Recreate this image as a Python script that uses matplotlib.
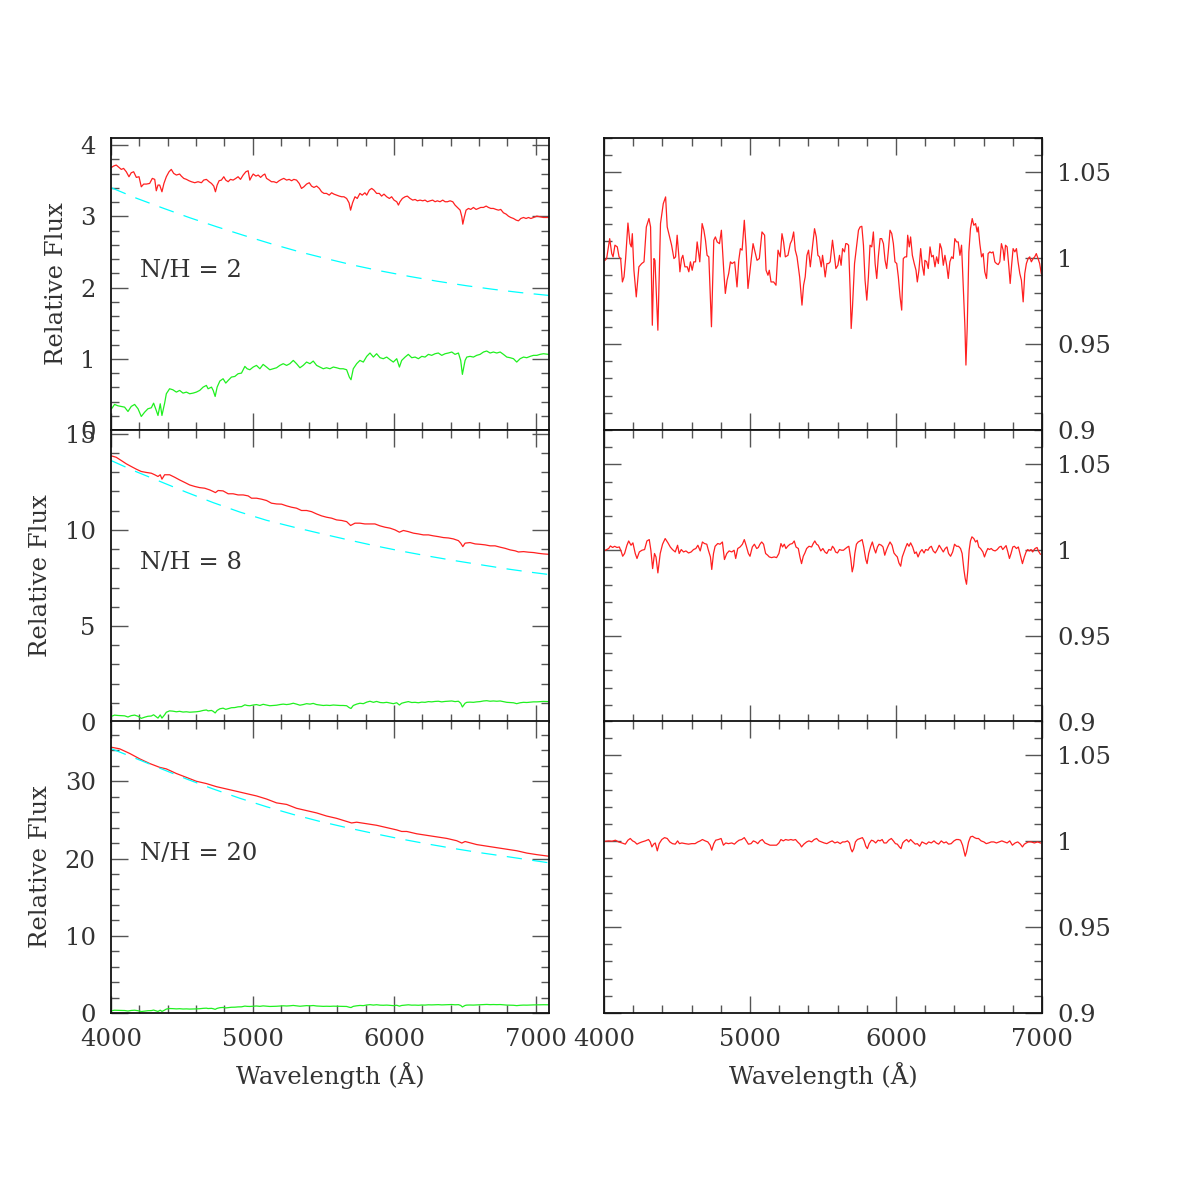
import matplotlib
matplotlib.use("Agg")
import matplotlib.pyplot as plt
from matplotlib.ticker import MultipleLocator, FuncFormatter

plt.rcParams.update({
    "font.family": "DejaVu Serif", "font.size": 17.5,
    "text.color": "#333333", "axes.labelcolor": "#333333",
    "xtick.labelcolor": "#333333", "ytick.labelcolor": "#333333",
    "lines.scale_dashes": False,
})

# galaxy spectrum (green, same in all three left panels)
GREEN_WAVE = [4004, 4025, 4049, 4073, 4096, 4120, 4143, 4167, 4191, 4214,
              4238, 4261, 4285, 4301, 4320, 4332, 4348, 4360, 4379, 4391,
              4414, 4437, 4462, 4485, 4509, 4533, 4556, 4580, 4603, 4627,
              4651, 4674, 4686, 4710, 4722, 4736, 4750, 4769, 4792, 4811,
              4828, 4851, 4875, 4898, 4922, 4946, 4962, 4981, 5005, 5028,
              5052, 5075, 5099, 5122, 5146, 5170, 5193, 5217, 5241, 5264,
              5288, 5311, 5335, 5358, 5382, 5406, 5429, 5453, 5476, 5500,
              5523, 5547, 5571, 5594, 5618, 5641, 5665, 5684, 5696, 5712,
              5736, 5759, 5783, 5807, 5830, 5854, 5877, 5901, 5924, 5948,
              5972, 5995, 6019, 6038, 6054, 6078, 6101, 6125, 6149, 6172,
              6196, 6219, 6243, 6266, 6290, 6313, 6337, 6361, 6384, 6408,
              6431, 6455, 6471, 6483, 6502, 6514, 6537, 6561, 6584, 6608,
              6632, 6655, 6679, 6702, 6726, 6750, 6773, 6797, 6820, 6844,
              6867, 6891, 6915, 6938, 6962, 6985, 7009, 7032, 7056, 7092]
GREEN_FLUX = [0.298, 0.359, 0.340, 0.331, 0.321, 0.260, 0.331, 0.359, 0.298, 0.190,
              0.251, 0.298, 0.312, 0.377, 0.274, 0.204, 0.368, 0.204, 0.377, 0.509,
              0.579, 0.565, 0.532, 0.556, 0.518, 0.532, 0.509, 0.518, 0.532, 0.556,
              0.602, 0.626, 0.579, 0.602, 0.556, 0.471, 0.602, 0.687, 0.720, 0.659,
              0.696, 0.743, 0.752, 0.790, 0.799, 0.893, 0.860, 0.846, 0.884, 0.907,
              0.860, 0.921, 0.884, 0.846, 0.860, 0.874, 0.907, 0.931, 0.907, 0.931,
              0.977, 0.931, 0.874, 0.907, 0.954, 0.931, 0.968, 0.907, 0.884, 0.860,
              0.874, 0.860, 0.884, 0.874, 0.860, 0.860, 0.846, 0.743, 0.706, 0.860,
              0.931, 0.977, 0.954, 1.034, 1.081, 1.024, 1.071, 1.015, 1.001, 1.024,
              0.987, 0.954, 1.001, 0.884, 0.977, 1.024, 1.062, 1.015, 1.024, 1.001,
              1.034, 1.024, 1.062, 1.048, 1.071, 1.081, 1.048, 1.071, 1.081, 1.095,
              1.062, 1.081, 0.977, 0.781, 0.977, 1.024, 1.034, 1.024, 1.048, 1.062,
              1.095, 1.109, 1.081, 1.095, 1.081, 1.095, 1.062, 1.024, 1.015, 1.001,
              0.954, 1.001, 1.024, 1.015, 1.034, 1.048, 1.048, 1.062, 1.071, 1.062]

# N/H = 2 : observed (red) and continuum (cyan)
RED2_WAVE = [4004, 4018, 4037, 4056, 4073, 4089, 4108, 4127, 4143, 4160,
             4179, 4198, 4214, 4231, 4250, 4273, 4292, 4309, 4320, 4332,
             4344, 4360, 4374, 4391, 4410, 4426, 4443, 4462, 4485, 4497,
             4514, 4533, 4551, 4568, 4592, 4615, 4639, 4655, 4674, 4693,
             4710, 4726, 4738, 4750, 4764, 4780, 4797, 4811, 4828, 4844,
             4863, 4882, 4898, 4915, 4934, 4953, 4969, 4981, 4993, 5005,
             5024, 5040, 5057, 5075, 5087, 5099, 5118, 5134, 5151, 5170,
             5188, 5205, 5221, 5241, 5259, 5276, 5292, 5311, 5330, 5346,
             5363, 5382, 5401, 5417, 5434, 5453, 5472, 5488, 5505, 5523,
             5542, 5559, 5575, 5594, 5613, 5630, 5646, 5665, 5682, 5693,
             5707, 5724, 5740, 5759, 5775, 5794, 5807, 5825, 5842, 5858,
             5877, 5896, 5912, 5929, 5948, 5967, 5983, 6000, 6019, 6031,
             6042, 6059, 6078, 6094, 6113, 6132, 6149, 6165, 6184, 6203,
             6219, 6236, 6255, 6273, 6290, 6306, 6325, 6344, 6361, 6377,
             6396, 6415, 6431, 6448, 6467, 6479, 6486, 6496, 6509, 6526,
             6542, 6561, 6580, 6597, 6613, 6632, 6651, 6667, 6684, 6702,
             6721, 6738, 6754, 6773, 6792, 6808, 6825, 6844, 6863, 6879,
             6896, 6915, 6933, 6950, 6967, 6986, 7009, 7033, 7056, 7092]
RED2_FLUX = [3.687, 3.706, 3.720, 3.687, 3.659, 3.673, 3.626, 3.556, 3.612, 3.626,
             3.547, 3.556, 3.415, 3.453, 3.453, 3.462, 3.533, 3.519, 3.359, 3.439,
             3.439, 3.345, 3.462, 3.556, 3.626, 3.659, 3.603, 3.580, 3.594, 3.565,
             3.533, 3.519, 3.500, 3.486, 3.472, 3.486, 3.472, 3.509, 3.519, 3.486,
             3.462, 3.425, 3.345, 3.439, 3.500, 3.509, 3.556, 3.509, 3.486, 3.519,
             3.509, 3.533, 3.556, 3.519, 3.580, 3.626, 3.640, 3.509, 3.556, 3.594,
             3.565, 3.580, 3.547, 3.580, 3.594, 3.533, 3.509, 3.486, 3.486, 3.472,
             3.500, 3.519, 3.533, 3.509, 3.519, 3.500, 3.519, 3.509, 3.462, 3.392,
             3.415, 3.453, 3.472, 3.425, 3.406, 3.425, 3.392, 3.345, 3.322, 3.322,
             3.298, 3.331, 3.312, 3.298, 3.284, 3.275, 3.275, 3.251, 3.190, 3.087,
             3.190, 3.275, 3.251, 3.322, 3.298, 3.331, 3.298, 3.368, 3.392, 3.368,
             3.322, 3.322, 3.284, 3.312, 3.275, 3.251, 3.275, 3.228, 3.205, 3.158,
             3.205, 3.251, 3.275, 3.284, 3.251, 3.228, 3.237, 3.218, 3.228, 3.218,
             3.228, 3.205, 3.218, 3.228, 3.205, 3.218, 3.205, 3.228, 3.205, 3.205,
             3.218, 3.205, 3.158, 3.125, 3.087, 2.994, 2.890, 2.984, 3.087, 3.111,
             3.097, 3.125, 3.097, 3.111, 3.125, 3.125, 3.144, 3.125, 3.111, 3.111,
             3.097, 3.087, 3.097, 3.050, 3.031, 3.003, 2.984, 2.970, 2.947, 2.937,
             2.970, 2.984, 2.970, 2.984, 2.970, 2.984, 3.003, 2.994, 2.984, 2.984]
CONT2_WAVE = [4004, 4179, 4368, 4557, 4745, 4934, 5123, 5335, 5524, 5712,
              5901, 6113, 6302, 6514, 6702, 6891, 7092]
CONT2_FLUX = [3.40, 3.255, 3.115, 2.98, 2.855, 2.735, 2.62, 2.50, 2.405, 2.315,
              2.235, 2.155, 2.09, 2.025, 1.975, 1.93, 1.89]

# N/H = 8
RED8_WAVE = [4004, 4037, 4073, 4108, 4143, 4179, 4214, 4250, 4285, 4309,
             4332, 4348, 4360, 4379, 4414, 4450, 4485, 4521, 4556, 4592,
             4627, 4662, 4698, 4722, 4738, 4757, 4792, 4828, 4863, 4898,
             4934, 4969, 4993, 5028, 5063, 5099, 5134, 5170, 5205, 5241,
             5276, 5311, 5346, 5382, 5417, 5453, 5488, 5523, 5559, 5594,
             5630, 5665, 5693, 5724, 5759, 5794, 5830, 5865, 5901, 5936,
             5972, 6007, 6038, 6066, 6101, 6137, 6172, 6207, 6243, 6278,
             6313, 6349, 6384, 6420, 6455, 6471, 6486, 6502, 6537, 6573,
             6608, 6644, 6679, 6714, 6750, 6785, 6820, 6856, 6879, 6915,
             6950, 6986, 7021, 7056, 7092]
RED8_FLUX = [13.85, 13.78, 13.61, 13.44, 13.30, 13.16, 13.04, 12.99, 12.95, 12.87,
             12.78, 12.87, 12.64, 12.87, 12.87, 12.74, 12.60, 12.47, 12.34, 12.26,
             12.20, 12.17, 12.08, 12.00, 11.94, 12.05, 12.03, 11.88, 11.88, 11.82,
             11.82, 11.77, 11.65, 11.65, 11.60, 11.53, 11.39, 11.35, 11.34, 11.25,
             11.18, 11.13, 11.01, 11.01, 10.95, 10.83, 10.73, 10.66, 10.61, 10.52,
             10.49, 10.43, 10.23, 10.35, 10.35, 10.31, 10.31, 10.31, 10.21, 10.14,
             10.09, 10.00, 9.88, 9.97, 9.91, 9.83, 9.79, 9.74, 9.74, 9.69,
             9.65, 9.60, 9.58, 9.53, 9.44, 9.31, 9.13, 9.31, 9.34, 9.27,
             9.25, 9.22, 9.17, 9.17, 9.10, 9.04, 8.96, 8.91, 8.85, 8.87,
             8.84, 8.82, 8.78, 8.75, 8.73]
CONT_WAVE = [4004, 4155, 4344, 4533, 4722, 4910, 5099, 5288, 5476, 5665,
             5854, 6042, 6231, 6420, 6608, 6797, 6962, 7092]
CONT8_FLUX = [13.6, 13.1, 12.53, 11.96, 11.42, 10.93, 10.50, 10.15, 9.82, 9.50,
              9.19, 8.91, 8.65, 8.41, 8.19, 7.97, 7.80, 7.68]

# N/H = 20
RED20_WAVE = [4004, 4061, 4132, 4203, 4273, 4344, 4391, 4462, 4533, 4603,
              4674, 4745, 4816, 4887, 4957, 5028, 5099, 5170, 5241, 5311,
              5382, 5453, 5523, 5594, 5665, 5700, 5736, 5807, 5877, 5948,
              6019, 6054, 6090, 6160, 6231, 6302, 6373, 6443, 6479, 6502,
              6585, 6655, 6726, 6797, 6868, 6939, 7009, 7092]
RED20_FLUX = [34.4, 34.2, 33.6, 32.9, 32.3, 31.8, 31.6, 31.0, 30.5, 30.0,
              29.7, 29.3, 29.0, 28.7, 28.4, 28.1, 27.7, 27.2, 27.0, 26.5,
              26.2, 25.9, 25.5, 25.2, 24.8, 24.6, 24.7, 24.5, 24.3, 24.0,
              23.7, 23.5, 23.5, 23.2, 23.0, 22.8, 22.6, 22.3, 22.0, 22.2,
              21.8, 21.6, 21.4, 21.2, 21.0, 20.7, 20.5, 20.3]
CONT20_FLUX = [34.2, 33.1, 31.7, 30.3, 29.0, 27.8, 26.7, 25.7, 24.8, 24.0,
               23.25, 22.55, 21.9, 21.3, 20.75, 20.25, 19.8, 19.45]

# ratio spectra (right column)
RATIO2_WAVE = [4007, 4018, 4039, 4053, 4062, 4075, 4091, 4103, 4114, 4126,
               4137, 4148, 4164, 4178, 4187, 4194, 4205, 4221, 4239, 4258,
               4274, 4290, 4308, 4319, 4331, 4342, 4349, 4369, 4387, 4406,
               4422, 4433, 4449, 4463, 4479, 4490, 4501, 4513, 4520, 4531,
               4540, 4554, 4570, 4581, 4592, 4604, 4615, 4627, 4638, 4656,
               4672, 4684, 4695, 4706, 4718, 4736, 4752, 4763, 4775, 4791,
               4804, 4820, 4831, 4843, 4854, 4866, 4877, 4895, 4911, 4923,
               4934, 4946, 4961, 4973, 4986, 4998, 5009, 5021, 5037, 5048,
               5064, 5082, 5100, 5110, 5123, 5132, 5144, 5162, 5178, 5192,
               5207, 5219, 5230, 5242, 5260, 5276, 5287, 5299, 5310, 5322,
               5340, 5356, 5367, 5378, 5390, 5401, 5413, 5429, 5442, 5454,
               5465, 5476, 5488, 5497, 5506, 5515, 5527, 5538, 5549, 5565,
               5579, 5588, 5602, 5613, 5624, 5634, 5647, 5656, 5663, 5675,
               5686, 5693, 5702, 5716, 5732, 5743, 5754, 5766, 5777, 5788,
               5800, 5811, 5822, 5834, 5845, 5857, 5868, 5879, 5891, 5902,
               5914, 5925, 5936, 5948, 5959, 5971, 5982, 5993, 6005, 6016,
               6028, 6039, 6050, 6062, 6073, 6080, 6091, 6100, 6112, 6125,
               6137, 6146, 6157, 6169, 6180, 6192, 6198, 6210, 6221, 6233,
               6244, 6255, 6267, 6278, 6290, 6301, 6312, 6324, 6335, 6347,
               6358, 6369, 6381, 6392, 6403, 6415, 6426, 6438, 6449, 6460,
               6472, 6479, 6488, 6499, 6510, 6522, 6533, 6545, 6556, 6563,
               6574, 6586, 6597, 6608, 6620, 6631, 6643, 6654, 6665, 6677,
               6688, 6700, 6711, 6722, 6734, 6741, 6750, 6761, 6773, 6782,
               6791, 6802, 6814, 6825, 6836, 6848, 6859, 6871, 6882, 6893,
               6905, 6916, 6927, 6939, 6950, 6961, 6973, 6984, 6995]
RATIO2 = [0.9988, 0.9998, 1.0114, 1.0027, 1.0008, 1.0076, 1.0066, 1.0008, 0.9998, 0.9862,
          0.9891, 0.9998, 1.0205, 1.0085, 1.0066, 1.0143, 0.9930, 0.9775, 0.9950, 0.9969,
          0.9979, 1.0182, 1.0231, 1.0182, 0.9610, 0.9998, 0.9988, 0.9581, 1.0202, 1.0318,
          1.0357, 1.0182, 1.0124, 1.0076, 0.9998, 1.0008, 1.0134, 1.0008, 0.9921, 0.9998,
          1.0017, 0.9950, 0.9950, 0.9921, 0.9979, 0.9930, 0.9979, 0.9979, 1.0095, 0.9979,
          1.0202, 1.0163, 1.0105, 1.0017, 1.0008, 0.9601, 1.0105, 1.0124, 1.0095, 1.0085,
          1.0163, 0.9930, 0.9795, 0.9872, 0.9911, 0.9979, 0.9969, 0.9979, 0.9833, 0.9988,
          1.0056, 1.0047, 1.0221, 1.0066, 0.9824, 0.9911, 0.9998, 1.0085, 1.0027, 0.9988,
          0.9998, 1.0153, 1.0134, 0.9930, 0.9901, 0.9930, 0.9862, 0.9862, 0.9843, 1.0047,
          1.0008, 1.0143, 1.0095, 1.0008, 1.0017, 1.0085, 1.0105, 1.0153, 1.0047, 1.0008,
          0.9891, 0.9727, 0.9843, 0.9891, 1.0017, 1.0047, 0.9950, 1.0076, 1.0172, 1.0124,
          1.0017, 1.0008, 0.9950, 1.0017, 0.9959, 0.9891, 0.9969, 0.9969, 0.9979, 1.0105,
          1.0008, 0.9940, 0.9959, 1.0017, 0.9959, 1.0056, 1.0037, 1.0085, 1.0085, 1.0076,
          0.9814, 0.9591, 0.9717, 0.9969, 1.0085, 1.0163, 1.0182, 1.0186, 1.0076, 0.9872,
          0.9756, 0.9891, 1.0076, 1.0066, 1.0153, 0.9969, 0.9882, 1.0008, 1.0114, 1.0114,
          1.0085, 0.9988, 0.9940, 1.0047, 1.0163, 1.0143, 1.0085, 0.9979, 0.9969, 0.9891,
          0.9775, 0.9698, 0.9998, 1.0008, 1.0008, 1.0134, 1.0066, 1.0124, 1.0017, 0.9969,
          0.9930, 0.9862, 0.9930, 1.0056, 0.9959, 0.9901, 0.9988, 0.9979, 0.9940, 1.0066,
          1.0008, 1.0017, 0.9950, 1.0008, 0.9969, 1.0085, 1.0056, 0.9959, 1.0017, 0.9959,
          0.9882, 0.9979, 1.0008, 0.9998, 1.0114, 1.0095, 1.0095, 1.0017, 1.0076, 0.9853,
          0.9601, 0.9378, 0.9601, 1.0037, 1.0172, 1.0231, 1.0192, 1.0202, 1.0153, 1.0182,
          1.0085, 1.0008, 1.0027, 0.9921, 0.9882, 1.0027, 1.0037, 1.0031, 1.0037, 0.9979,
          0.9969, 0.9963, 0.9979, 1.0085, 1.0047, 0.9988, 1.0076, 1.0066, 0.9950, 0.9853,
          0.9950, 1.0056, 1.0037, 1.0056, 0.9979, 0.9911, 0.9872, 0.9746, 0.9911, 0.9969,
          0.9998, 1.0008, 0.9979, 0.9998, 1.0008, 1.0027, 0.9998, 0.9969, 0.9911]

RATIO8_WAVE = [4009, 4032, 4044, 4059, 4073, 4089, 4105, 4119, 4128, 4141,
               4157, 4169, 4185, 4198, 4214, 4226, 4242, 4260, 4278, 4294,
               4310, 4321, 4333, 4346, 4356, 4369, 4385, 4401, 4419, 4438,
               4454, 4469, 4488, 4504, 4515, 4529, 4545, 4561, 4579, 4597,
               4613, 4629, 4643, 4659, 4674, 4688, 4704, 4715, 4729, 4738,
               4750, 4761, 4779, 4795, 4811, 4825, 4841, 4857, 4875, 4891,
               4902, 4916, 4932, 4948, 4961, 4973, 4989, 5000, 5016, 5030,
               5046, 5057, 5068, 5080, 5093, 5107, 5121, 5132, 5148, 5166,
               5182, 5198, 5212, 5223, 5235, 5246, 5258, 5274, 5290, 5303,
               5315, 5331, 5342, 5353, 5365, 5376, 5388, 5404, 5422, 5433,
               5444, 5456, 5467, 5485, 5499, 5513, 5526, 5540, 5554, 5565,
               5577, 5586, 5599, 5613, 5627, 5640, 5654, 5668, 5677, 5690,
               5700, 5709, 5718, 5729, 5741, 5754, 5768, 5779, 5793, 5802,
               5813, 5827, 5838, 5850, 5861, 5873, 5884, 5900, 5911, 5923,
               5934, 5945, 5959, 5973, 5986, 5998, 6009, 6020, 6032, 6043,
               6055, 6066, 6077, 6089, 6100, 6114, 6128, 6139, 6151, 6165,
               6178, 6192, 6203, 6219, 6230, 6242, 6255, 6269, 6283, 6296,
               6310, 6324, 6337, 6349, 6360, 6374, 6388, 6401, 6415, 6428,
               6442, 6453, 6465, 6474, 6483, 6492, 6501, 6510, 6520, 6533,
               6545, 6556, 6567, 6579, 6595, 6606, 6618, 6629, 6640, 6652,
               6665, 6679, 6693, 6708, 6720, 6731, 6743, 6754, 6766, 6777,
               6788, 6800, 6811, 6825, 6838, 6852, 6866, 6879, 6891, 6902,
               6913, 6925, 6936, 6952, 6966, 6975, 6989]
RATIO8 = [1.0000, 1.0010, 1.0025, 1.0016, 1.0023, 1.0016, 1.0019, 0.9990, 0.9965, 0.9981,
          1.0029, 1.0054, 1.0029, 1.0043, 0.9981, 0.9952, 0.9990, 1.0000, 1.0004, 1.0054,
          1.0062, 1.0000, 0.9893, 0.9981, 0.9961, 0.9868, 0.9981, 1.0035, 1.0068, 1.0043,
          1.0019, 1.0004, 0.9990, 1.0029, 0.9981, 1.0004, 0.9990, 0.9996, 0.9984, 0.9990,
          1.0004, 1.0010, 1.0029, 0.9996, 1.0048, 1.0039, 1.0035, 1.0000, 0.9961, 0.9888,
          0.9981, 1.0023, 1.0039, 1.0035, 1.0048, 0.9946, 0.9981, 0.9996, 0.9990, 1.0000,
          0.9952, 1.0010, 1.0019, 1.0035, 1.0062, 1.0029, 0.9981, 0.9965, 1.0019, 1.0035,
          1.0010, 1.0016, 1.0035, 1.0048, 1.0035, 0.9981, 0.9971, 0.9961, 0.9957, 0.9961,
          0.9957, 0.9981, 1.0039, 1.0019, 1.0035, 1.0010, 1.0023, 1.0035, 1.0039, 1.0054,
          1.0019, 1.0010, 0.9961, 0.9922, 0.9965, 0.9984, 1.0010, 1.0023, 1.0019, 1.0039,
          1.0054, 1.0035, 1.0029, 0.9996, 1.0010, 0.9990, 0.9981, 1.0004, 1.0000, 1.0023,
          1.0010, 0.9990, 0.9984, 1.0004, 1.0000, 1.0000, 1.0010, 1.0019, 1.0023, 0.9952,
          0.9874, 0.9907, 0.9981, 1.0035, 1.0048, 1.0054, 1.0062, 1.0019, 0.9946, 0.9922,
          0.9981, 1.0023, 1.0048, 1.0010, 0.9984, 1.0019, 1.0035, 1.0029, 1.0019, 0.9971,
          1.0000, 1.0023, 1.0048, 1.0029, 0.9984, 0.9971, 0.9961, 0.9926, 0.9907, 0.9961,
          0.9990, 1.0016, 1.0039, 1.0023, 1.0043, 1.0019, 0.9981, 0.9990, 0.9961, 0.9990,
          1.0004, 0.9984, 1.0004, 1.0000, 1.0016, 1.0023, 0.9996, 0.9984, 1.0004, 1.0029,
          1.0010, 0.9990, 1.0010, 1.0019, 0.9981, 0.9965, 0.9990, 1.0035, 1.0023, 1.0023,
          1.0010, 0.9981, 0.9888, 0.9835, 0.9802, 0.9884, 1.0000, 1.0054, 1.0078, 1.0068,
          1.0048, 1.0058, 1.0019, 1.0010, 0.9990, 0.9961, 0.9990, 1.0010, 1.0004, 1.0010,
          1.0000, 0.9996, 1.0004, 1.0019, 1.0023, 1.0004, 1.0016, 1.0027, 0.9990, 0.9952,
          0.9981, 1.0019, 1.0023, 1.0010, 1.0019, 0.9971, 0.9922, 0.9961, 0.9990, 1.0004,
          0.9996, 1.0004, 0.9990, 1.0010, 1.0016, 0.9996, 0.9977]

RATIO20_WAVE = [4009, 4032, 4055, 4078, 4100, 4123, 4146, 4164, 4180, 4196,
                4210, 4226, 4242, 4260, 4283, 4305, 4317, 4328, 4340, 4351,
                4365, 4378, 4396, 4415, 4433, 4451, 4469, 4488, 4504, 4517,
                4533, 4556, 4579, 4601, 4624, 4643, 4659, 4674, 4693, 4711,
                4727, 4738, 4752, 4765, 4784, 4802, 4818, 4834, 4852, 4875,
                4893, 4909, 4925, 4943, 4961, 4975, 4989, 5007, 5023, 5039,
                5053, 5068, 5084, 5102, 5121, 5137, 5159, 5182, 5198, 5212,
                5228, 5244, 5262, 5280, 5296, 5312, 5326, 5342, 5353, 5369,
                5388, 5404, 5422, 5440, 5456, 5472, 5490, 5508, 5526, 5547,
                5563, 5581, 5599, 5618, 5634, 5650, 5668, 5681, 5690, 5700,
                5711, 5722, 5736, 5754, 5770, 5782, 5793, 5804, 5816, 5832,
                5845, 5861, 5877, 5891, 5905, 5918, 5934, 5950, 5968, 5982,
                5996, 6009, 6023, 6034, 6046, 6059, 6073, 6087, 6100, 6116,
                6132, 6146, 6162, 6178, 6192, 6208, 6224, 6242, 6260, 6276,
                6292, 6310, 6328, 6344, 6360, 6378, 6397, 6413, 6428, 6442,
                6456, 6465, 6474, 6483, 6497, 6510, 6524, 6538, 6551, 6565,
                6583, 6602, 6618, 6634, 6652, 6670, 6688, 6706, 6725, 6743,
                6761, 6779, 6797, 6816, 6834, 6852, 6866, 6879, 6893, 6907,
                6925, 6948, 6970, 6989]
RATIO20 = [1.0000, 1.0002, 1.0000, 1.0006, 0.9996, 0.9990, 0.9983, 1.0006, 1.0016, 1.0002,
           0.9996, 0.9983, 0.9990, 0.9996, 1.0002, 1.0010, 0.9996, 0.9967, 0.9983, 0.9990,
           0.9944, 0.9986, 1.0010, 1.0021, 1.0016, 0.9996, 0.9986, 0.9983, 1.0002, 0.9986,
           0.9990, 0.9986, 0.9983, 0.9986, 0.9986, 0.9996, 1.0002, 1.0010, 1.0002, 0.9996,
           0.9977, 0.9948, 0.9986, 1.0006, 1.0010, 1.0016, 0.9977, 0.9990, 0.9986, 0.9990,
           0.9983, 0.9996, 1.0006, 1.0010, 1.0021, 1.0002, 0.9983, 0.9986, 1.0002, 0.9996,
           0.9986, 1.0002, 1.0010, 0.9990, 0.9983, 0.9977, 0.9977, 0.9977, 0.9990, 1.0010,
           1.0002, 1.0010, 1.0006, 1.0010, 1.0006, 1.0010, 0.9996, 0.9983, 0.9967, 0.9983,
           0.9996, 1.0002, 0.9996, 1.0010, 1.0016, 1.0002, 0.9996, 0.9990, 0.9986, 0.9996,
           1.0002, 0.9990, 0.9996, 0.9986, 0.9996, 0.9996, 1.0002, 0.9990, 0.9957, 0.9938,
           0.9957, 0.9996, 1.0010, 1.0016, 1.0021, 1.0002, 0.9971, 0.9957, 0.9986, 1.0006,
           1.0002, 0.9990, 1.0006, 1.0002, 1.0010, 0.9990, 0.9990, 1.0006, 1.0016, 1.0002,
           0.9986, 0.9983, 0.9967, 0.9957, 0.9990, 1.0002, 1.0010, 0.9996, 1.0010, 0.9996,
           0.9983, 0.9986, 0.9971, 0.9996, 0.9990, 0.9983, 0.9996, 0.9990, 1.0002, 0.9990,
           0.9983, 1.0002, 0.9990, 0.9996, 0.9983, 0.9986, 1.0002, 1.0010, 1.0010, 1.0006,
           0.9977, 0.9944, 0.9913, 0.9938, 0.9996, 1.0025, 1.0029, 1.0021, 1.0016, 1.0016,
           1.0002, 0.9996, 0.9986, 0.9990, 0.9996, 0.9996, 0.9990, 0.9996, 1.0002, 0.9996,
           0.9990, 1.0002, 0.9977, 0.9990, 0.9996, 0.9983, 0.9967, 0.9983, 0.9990, 0.9996,
           0.9996, 0.9990, 0.9996, 0.9990]

PANEL_LABELS = ["N/H = 2", "N/H = 8", "N/H = 20"]
YMAX_LEFT = [4.1, 15.2, 37.8]
Y_MAJOR = [1, 5, 10]
Y_MINOR = [0.2, 1, 2]

RED = "#ff2020"
GREEN = "#20f020"
CYAN = "#00ffff"

fmt = FuncFormatter(lambda v, p: f"{v:g}")


def style(ax, xmax, ymaj, ymin):
    ax.xaxis.set_major_locator(MultipleLocator(1000))
    ax.xaxis.set_minor_locator(MultipleLocator(200))
    ax.yaxis.set_major_locator(MultipleLocator(ymaj))
    ax.yaxis.set_minor_locator(MultipleLocator(ymin))
    ax.xaxis.set_major_formatter(fmt)
    ax.yaxis.set_major_formatter(fmt)
    ax.tick_params(which="both", direction="in", top=True, right=True,
                   bottom=True, left=True, color="#555555", width=1.0)
    ax.tick_params(which="major", length=12.5, pad=11)
    ax.tick_params(which="minor", length=6)
    for s in ax.spines.values():
        s.set_linewidth(1.3)
        s.set_color("#111111")


fig = plt.figure(figsize=(11.96, 11.96), dpi=100)
W = 438 / 1196
H = 292 / 1196
XL, XR = 111 / 1196, 604 / 1196
BOTTOMS = [1 - 430 / 1196, 1 - 722 / 1196, 1 - 1013 / 1196]

reds = [(RED2_WAVE, RED2_FLUX), (RED8_WAVE, RED8_FLUX), (RED20_WAVE, RED20_FLUX)]
conts = [(CONT2_WAVE, CONT2_FLUX), (CONT_WAVE, CONT8_FLUX), (CONT_WAVE, CONT20_FLUX)]
ratios = [(RATIO2_WAVE, RATIO2), (RATIO8_WAVE, RATIO8), (RATIO20_WAVE, RATIO20)]

for i in range(3):
    axl = fig.add_axes([XL, BOTTOMS[i], W, H])
    axl.plot(*reds[i], color=RED, lw=0.9)
    axl.plot(*conts[i], color=CYAN, lw=0.9, dashes=(11, 7.5))
    axl.plot(GREEN_WAVE, GREEN_FLUX, color=GREEN, lw=0.9)
    axl.set_xlim(4000, 7095)
    axl.set_ylim(0, YMAX_LEFT[i])
    style(axl, 7095, Y_MAJOR[i], Y_MINOR[i])
    axl.set_ylabel("Relative Flux", labelpad=9)
    axl.text(0.066, 0.545, PANEL_LABELS[i], transform=axl.transAxes,
             va="center", ha="left")

    axr = fig.add_axes([XR, BOTTOMS[i], W, H])
    axr.plot(*ratios[i], color=RED, lw=0.9)
    axr.set_xlim(4000, 7000)
    axr.set_ylim(0.9, 1.07)
    style(axr, 7000, 0.05, 0.01)
    axr.tick_params(which="both", labelleft=False, labelright=True)

    if i < 2:
        axl.tick_params(labelbottom=False)
        axr.tick_params(labelbottom=False)
    else:
        axl.set_xlabel("Wavelength (Å)", labelpad=8)
        axr.set_xlabel("Wavelength (Å)", labelpad=8)

fig.savefig("out.png", dpi=100)
